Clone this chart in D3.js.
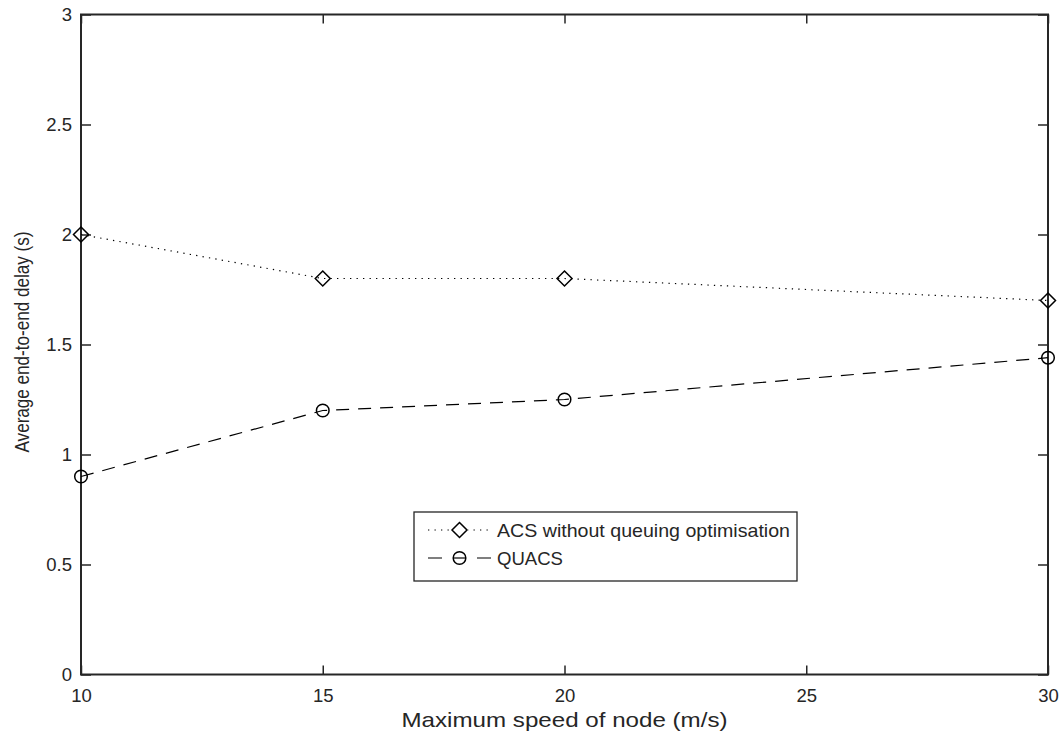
<!DOCTYPE html>
<html><head><meta charset="utf-8">
<script src="https://cdn.jsdelivr.net/npm/d3@7/dist/d3.min.js"></script>
<style>
html,body{margin:0;padding:0;background:#fff;}
svg{display:block;font-family:"Liberation Sans",Arial,Helvetica,sans-serif;}
</style></head>
<body>
<svg id="chart" width="1064" height="734"></svg>
<script>
const speeds = [10, 15, 20, 30];
const acsDelay = [2.0, 1.8, 1.8, 1.7];
const quacsDelay = [0.9, 1.2, 1.25, 1.44];
const xTicks = [10, 15, 20, 25, 30];
const yTicks = [0, 0.5, 1, 1.5, 2, 2.5, 3];
const seriesNames = ["ACS without queuing optimisation", "QUACS"];
const xLabel = "Maximum speed of node (m/s)";
const yLabel = "Average end-to-end delay (s)";

const ink = "#262626";
const svg = d3.select("#chart");
const L = 81, R = 1048, T = 14.5, B = 674.5;
const x = d3.scaleLinear().domain([10, 30]).range([L, R]);
const y = d3.scaleLinear().domain([0, 3]).range([B, T]);

function styleAxis(g){
  g.select(".domain").remove();
  g.selectAll(".tick line").attr("stroke", ink).attr("stroke-width", 1.5);
  g.selectAll(".tick text").attr("fill", ink).style("font-size", "18.5px").style("font-family", "Liberation Sans, Arial, sans-serif");
}
const fmt = d => String(d);
svg.append("g").attr("transform", `translate(${L},0)`)
  .call(d3.axisLeft(y).tickValues(yTicks).tickFormat(fmt).tickSize(-10).tickPadding(9))
  .call(styleAxis);
svg.append("g").attr("transform", `translate(${R},0)`)
  .call(d3.axisRight(y).tickValues(yTicks).tickFormat("").tickSize(-10))
  .call(styleAxis);
svg.append("g").attr("transform", `translate(0,${B})`)
  .call(d3.axisBottom(x).tickValues(xTicks).tickFormat(fmt).tickSize(-9).tickPadding(14))
  .call(styleAxis);
svg.append("g").attr("transform", `translate(0,${T})`)
  .call(d3.axisTop(x).tickValues(xTicks).tickFormat("").tickSize(-9))
  .call(styleAxis);

svg.append("rect").attr("x", L).attr("y", T).attr("width", R - L).attr("height", B - T)
  .attr("fill", "none").attr("stroke", ink).attr("stroke-width", 2);

// axis labels
svg.append("text").attr("x", (L + R) / 2).attr("y", 727).attr("text-anchor", "middle")
  .attr("fill", ink).style("font-size", "21px")
  .attr("textLength", 326).attr("lengthAdjust", "spacingAndGlyphs").text(xLabel);
svg.append("text").attr("transform", `translate(29,${(232 + 452) / 2}) rotate(-90)`)
  .attr("text-anchor", "middle").attr("fill", ink).style("font-size", "20.5px")
  .attr("textLength", 221).attr("lengthAdjust", "spacingAndGlyphs").text(yLabel);

const line = d3.line().x(d => x(d[0])).y(d => y(d[1]));
const acsPts = speeds.map((s, i) => [s, acsDelay[i]]);
const quPts = speeds.map((s, i) => [s, quacsDelay[i]]);

svg.append("path").datum(acsPts).attr("d", line).attr("fill", "none")
  .attr("stroke", "#000").attr("stroke-width", 1.2).attr("stroke-dasharray", "1.3,5.2");
svg.append("path").datum(quPts).attr("d", line).attr("fill", "none")
  .attr("stroke", "#000").attr("stroke-width", 1.2).attr("stroke-dasharray", "13,9");

const diamond = (cx, cy, r) => `M${cx},${cy - r}L${cx + r},${cy}L${cx},${cy + r}L${cx - r},${cy}Z`;
svg.selectAll(".dm").data(acsPts).enter().append("path")
  .attr("d", d => diamond(x(d[0]), y(d[1]), 7.5))
  .attr("fill", "none").attr("stroke", "#000").attr("stroke-width", 1.5);
svg.selectAll(".ci").data(quPts).enter().append("circle")
  .attr("cx", d => x(d[0])).attr("cy", d => y(d[1])).attr("r", 6.3)
  .attr("fill", "none").attr("stroke", "#000").attr("stroke-width", 1.5);

// legend
const lg = svg.append("g");
lg.append("rect").attr("x", 414).attr("y", 512).attr("width", 383).attr("height", 69)
  .attr("fill", "#fff").attr("stroke", ink).attr("stroke-width", 1.3);
lg.append("line").attr("x1", 428).attr("x2", 491).attr("y1", 530).attr("y2", 530)
  .attr("stroke", "#000").attr("stroke-width", 1.2).attr("stroke-dasharray", "1.3,5.2");
lg.append("rect").attr("x", 451).attr("y", 521).attr("width", 17).attr("height", 18).attr("fill", "#fff");
lg.append("path").attr("d", diamond(459.5, 530, 7.5)).attr("fill", "none").attr("stroke", "#000").attr("stroke-width", 1.5);
lg.append("line").attr("x1", 428).attr("x2", 491).attr("y1", 558).attr("y2", 558)
  .attr("stroke", "#000").attr("stroke-width", 1.2).attr("stroke-dasharray", "14,35,14");
lg.append("circle").attr("cx", 459.5).attr("cy", 558).attr("r", 6.3).attr("fill", "none").attr("stroke", "#000").attr("stroke-width", 1.5);
lg.append("line").attr("x1", 453).attr("x2", 466).attr("y1", 558).attr("y2", 558).attr("stroke", "#000").attr("stroke-width", 1.2);
lg.append("text").attr("x", 497).attr("y", 537).attr("fill", ink).style("font-size", "19px")
  .attr("textLength", 293).attr("lengthAdjust", "spacingAndGlyphs").text(seriesNames[0]);
lg.append("text").attr("x", 497).attr("y", 565).attr("fill", ink).style("font-size", "19px")
  .attr("textLength", 66).attr("lengthAdjust", "spacingAndGlyphs").text(seriesNames[1]);
</script>
</body></html>
